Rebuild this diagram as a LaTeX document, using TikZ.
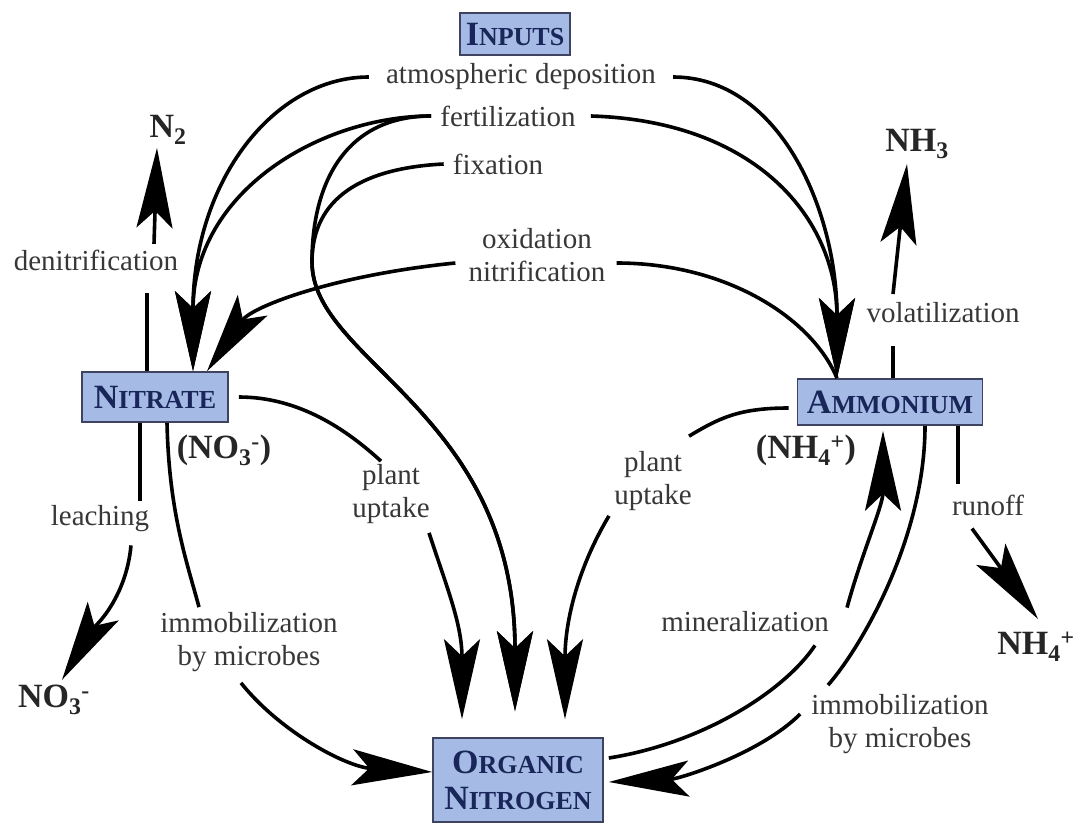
\documentclass[tikz,border=0pt]{standalone}
\usepackage{fontspec}
\setmainfont{Liberation Serif}
\usetikzlibrary{arrows.meta}
\definecolor{poolBlue}{RGB}{165,186,228}
\definecolor{poolInk}{RGB}{25,38,90}
\definecolor{poolEdge}{RGB}{62,68,96}
\definecolor{labelGray}{RGB}{55,55,55}
\newcommand{\capsc}[2]{{\fontsize{34}{36}\selectfont #1}{\fontsize{26}{36}\selectfont #2}}
\newcommand{\ionminus}[1]{\textsubscript{#1}\textsuperscript{-}}
\newcommand{\ionplus}[1]{\textsubscript{#1}\textsuperscript{+}}

\begin{document}
\begin{tikzpicture}[x=1pt,y=-1pt,
  >={Stealth[length=80pt,width=36pt,inset=17pt]},
  pool/.style={draw=poolEdge,line width=1.6pt,fill=poolBlue,text=poolInk,font=\fontsize{26}{36}\selectfont\bfseries,inner sep=0pt,align=center},
  lbl/.style={font=\fontsize{29}{33}\selectfont,text=labelGray,align=center,inner sep=1pt},
  chem/.style={font=\fontsize{34}{36}\selectfont\bfseries,text=black!85,inner sep=1pt},
  flow/.style={line width=3.6pt}]
 	\useasboundingbox (0,0) rectangle (1075,824);
 	% pools
 	\node[pool,minimum width=110pt,minimum height=42pt] (inputs) at (515,34) {\capsc{I}{NPUTS}};
 	\node[pool,minimum width=146pt,minimum height=50pt] (nitrate) at (155,397) {\capsc{N}{ITRATE}};
 	\node[pool,minimum width=185pt,minimum height=46pt] (ammonium) at (890,402) {\capsc{A}{MMONIUM}};
 	\node[pool,minimum width=170pt,minimum height=84pt] (organic) at (518,780) {\capsc{O}{RGANIC}\\\capsc{N}{ITROGEN}};
 	% processes
 	\node[lbl] (atm) at (521,77) {atmospheric deposition};
 	\node[lbl] (fert) at (508,116) {fertilization};
 	\node[lbl] (fix) at (498,164) {fixation};
 	\node[lbl] (oxid) at (537,255) {oxidation\\nitrification};
 	\node[lbl] (denit) at (96,260) {denitrification};
 	\node[lbl] (volat) at (943,313) {volatilization};
 	\node[lbl] (leach) at (100,519) {leaching};
 	\node[lbl] (immobL) at (249,642) {immobilization\\by microbes};
 	\node[lbl] (uptakeL) at (391,494) {plant\\uptake};
 	\node[lbl] (uptakeR) at (653,481) {plant\\uptake};
 	\node[lbl] (runoff) at (988,505) {runoff};
 	\node[lbl] (miner) at (745,622) {mineralization};
 	\node[lbl] (immobR) at (900,724) {immobilization\\by microbes};
 	% forms
 	\node[chem] (ntwo) at (168,130) {N\textsubscript{2}};
 	\node[chem] (nhthree) at (917,144) {NH\textsubscript{3}};
 	\node[chem] (nition) at (224,450) {(NO\ionminus{3})};
 	\node[chem] (ammion) at (806,450) {(NH\ionplus{4})};
 	\node[chem] (nitout) at (54,700) {NO\ionminus{3}};
 	\node[chem] (ammout) at (1036,647) {NH\ionplus{4}};
 	% inputs
 	\draw[flow,->] ([xshift=-16pt]atm.west) .. controls +(-95,0) and +(0,-190) .. ([xshift=38pt]nitrate.north);
 	\draw[flow,->] ([xshift=-8pt]fert.west) .. controls +(-110,0) and +(0,-180) .. ([xshift=38pt]nitrate.north);
 	\coordinate (merge) at (312,262);
 	\draw[flow,->] ([xshift=-8pt]fert.west) .. controls +(-85,0) and +(0,-80) .. (merge) .. controls +(0,100) and +(0,-300) .. ([xshift=-3pt,yshift=26pt]organic.north);
 	\draw[flow,->] ([xshift=-8pt]fix.west) .. controls +(-80,4) and +(0,-65) .. (merge) .. controls +(0,100) and +(0,-300) .. ([xshift=-3pt,yshift=26pt]organic.north);
 	\draw[flow,->] ([xshift=16pt]atm.east) .. controls +(105,0) and +(0,-170) .. ([xshift=-53pt]ammonium.north);
 	\draw[flow,->] ([xshift=14pt]fert.east) .. controls +(165,5) and +(0,-160) .. ([xshift=-53pt]ammonium.north);
 	% nitrification
 	\draw[flow] ([xshift=-53pt]ammonium.north) .. controls +(-25,-60) and +(110,0) .. ([xshift=10pt,yshift=-8pt]oxid.east);
 	\draw[flow,->] ([xshift=-12pt,yshift=-8pt]oxid.west) .. controls +(-120,12) and +(45,-65) .. ([xshift=52pt]nitrate.north);
 	% gas losses
 	\draw[flow] ([xshift=-8pt]nitrate.north) -- ++(0,-78);
 	\draw[flow,<-] ([xshift=-11pt,yshift=-2pt]ntwo.south) -- ++(-3,96);
 	\draw[flow] ([xshift=3pt]ammonium.north) -- ++(0,-32);
 	\draw[flow,<-] ([xshift=-10pt,yshift=-4pt]nhthree.south) -- ++(-14,130);
 	% leaching
 	\draw[flow] ([xshift=-15pt]nitrate.south) -- ++(0,78);
 	\draw[flow,->] ([xshift=31pt,yshift=-12pt]leach.south) .. controls +(-5,55) and +(30,-50) .. ([xshift=8pt,yshift=4pt]nitout.north);
 	% nitrate to organic
 	\draw[flow] ([xshift=12pt]nitrate.south) .. controls +(2,90) and +(-12,-45) .. ([xshift=-50pt,yshift=4pt]immobL.north);
 	\draw[flow,->] ([xshift=-8pt,yshift=-10pt]immobL.south) .. controls +(40,50) and +(-85,-5) .. ([yshift=8pt]organic.west);
 	\draw[flow] ([xshift=10pt]nitrate.east) .. controls +(60,0) and +(-35,-32) .. ([xshift=-10pt,yshift=2pt]uptakeL.north);
 	\draw[flow,->] ([xshift=38pt,yshift=-8pt]uptakeL.south) .. controls +(18,55) and +(0,-95) .. ([xshift=-56pt,yshift=18pt]organic.north);
 	% ammonium to organic
 	\draw[flow] ([xshift=-8pt,yshift=-6pt]ammonium.west) .. controls +(-50,0) and +(30,-18) .. ([xshift=36pt,yshift=14pt]uptakeR.north);
 	\draw[flow,->] ([xshift=-44pt,yshift=-4pt]uptakeR.south) .. controls +(-30,50) and +(0,-100) .. ([xshift=47pt,yshift=18pt]organic.north);
 	\draw[flow] ([xshift=35pt]ammonium.south) .. controls +(0,110) and +(35,-40) .. ([xshift=-72pt,yshift=8pt]immobR.north);
 	\draw[flow,->] ([xshift=-10pt,yshift=10pt]immobR.west) .. controls +(-40,40) and +(70,-3) .. ([xshift=5pt,yshift=-2pt]organic.east);
 	% organic to ammonium
 	\draw[flow] ([xshift=5pt,yshift=22pt]organic.east) .. controls +(95,-15) and +(-30,45) .. ([xshift=70pt,yshift=-12pt]miner.south);
 	\draw[flow,->] ([xshift=102pt,yshift=3pt]miner.north) .. controls +(15,-55) and +(0,75) .. ([xshift=-7pt,yshift=-5pt]ammonium.south);
 	% runoff
 	\draw[flow] ([xshift=68pt]ammonium.south) -- ++(0,58);
 	\draw[flow,->] ([xshift=-16pt,yshift=-12pt]runoff.south) -- ([xshift=2pt,yshift=12pt]ammout.north);
\end{tikzpicture}
\end{document}
